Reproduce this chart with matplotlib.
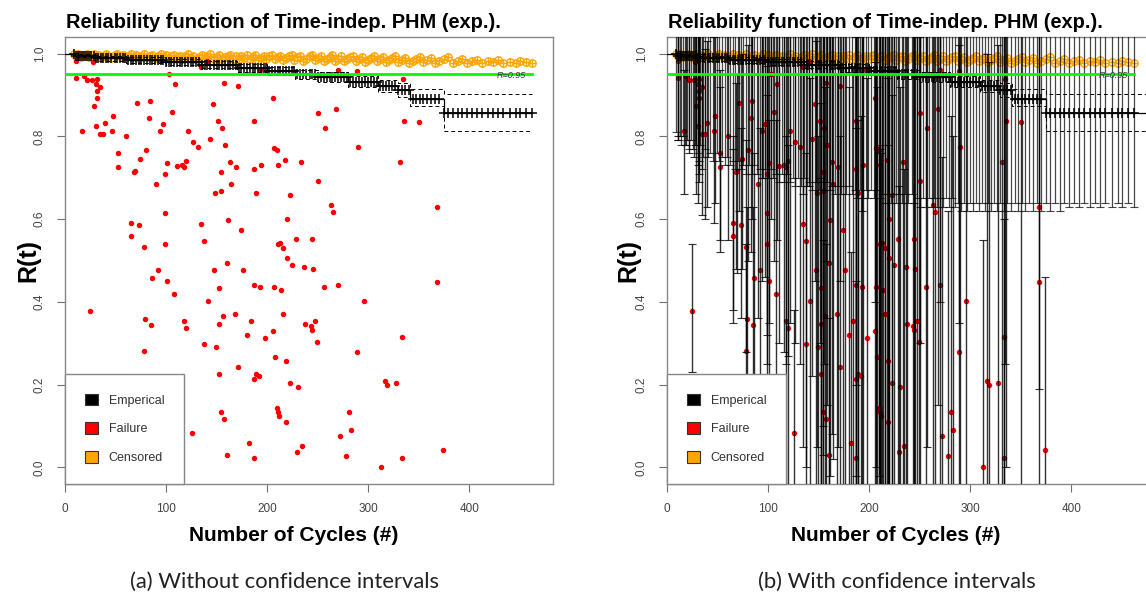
import numpy as np
import matplotlib

matplotlib.use("Agg")
import matplotlib.pyplot as plt
from matplotlib.patches import Patch

# ---------------- data ----------------
# failures: cycle count, model reliability, and the CI drawn in panel (b)
fail_x = [11, 28, 94, 135, 141, 193, 11, 19, 22, 27, 32, 31, 35, 32, 32, 29, 103, 109, 157, 171,
          206, 250, 71, 84, 146, 106, 48, 40, 31, 17, 35, 38, 47, 60, 83, 97, 94, 122, 151, 155,
          187, 144, 158, 127, 132, 80, 52, 74, 52, 101, 111, 116, 118, 120, 68, 69, 99, 90, 154, 163,
          169, 164, 148, 154, 187, 194, 189, 207, 210, 211, 218, 234, 223, 250, 99, 65, 73, 65, 135, 161,
          174, 220, 229, 244, 78, 99, 138, 211, 213, 216, 220, 225, 237, 245, 92, 86, 101, 108, 160, 147,
          176, 152, 187, 193, 207, 214, 142, 25, 79, 85, 118, 120, 156, 168, 184, 152, 216, 238, 243, 247,
          244, 249, 180, 206, 198, 138, 149, 78, 208, 219, 171, 152, 189, 192, 187, 223, 231, 210, 211, 212,
          219, 154, 157, 126, 182, 235, 230, 160, 187, 270, 289, 335, 268, 257, 336, 350, 290, 332, 263, 265,
          256, 270, 296, 289, 281, 283, 272, 278, 317, 319, 328, 313, 334, 334, 368, 368, 374]
fail_r = [0.981, 0.980, 0.981, 0.967, 0.981, 0.960, 0.940, 0.946, 0.936, 0.937, 0.938, 0.927, 0.918, 0.909, 0.893, 0.873, 0.950, 0.926, 0.930, 0.921,
          0.893, 0.857, 0.880, 0.886, 0.878, 0.859, 0.849, 0.833, 0.825, 0.812, 0.805, 0.805, 0.814, 0.800, 0.845, 0.831, 0.814, 0.814, 0.837, 0.820,
          0.837, 0.793, 0.779, 0.787, 0.775, 0.767, 0.760, 0.746, 0.725, 0.736, 0.729, 0.730, 0.725, 0.740, 0.713, 0.717, 0.708, 0.686, 0.715, 0.737,
          0.725, 0.684, 0.664, 0.668, 0.722, 0.730, 0.664, 0.772, 0.768, 0.730, 0.742, 0.737, 0.659, 0.693, 0.614, 0.590, 0.585, 0.559, 0.589, 0.597,
          0.573, 0.601, 0.552, 0.552, 0.532, 0.539, 0.546, 0.540, 0.543, 0.531, 0.507, 0.489, 0.484, 0.480, 0.478, 0.457, 0.450, 0.418, 0.495, 0.478,
          0.476, 0.433, 0.442, 0.437, 0.435, 0.428, 0.402, 0.379, 0.359, 0.343, 0.353, 0.336, 0.367, 0.371, 0.353, 0.346, 0.370, 0.346, 0.341, 0.353,
          0.331, 0.304, 0.320, 0.329, 0.312, 0.299, 0.291, 0.281, 0.266, 0.257, 0.242, 0.225, 0.226, 0.220, 0.213, 0.203, 0.194, 0.143, 0.135, 0.125,
          0.111, 0.135, 0.118, 0.084, 0.058, 0.051, 0.037, 0.031, 0.022, 0.961, 0.959, 0.938, 0.866, 0.820, 0.837, 0.835, 0.774, 0.737, 0.633, 0.616,
          0.437, 0.440, 0.403, 0.280, 0.133, 0.090, 0.077, 0.027, 0.208, 0.200, 0.203, 0.000, 0.316, 0.024, 0.630, 0.447, 0.043]
fail_lo = [0.80, 0.78, 0.70, 0.66, 0.68, 0.62, 0.79, 0.78, 0.76, 0.75, 0.74, 0.73, 0.72, 0.71, 0.69, 0.66, 0.60, 0.55, 0.50, 0.45,
           0.40, 0.30, 0.62, 0.60, 0.45, 0.50, 0.64, 0.63, 0.64, 0.66, 0.61, 0.60, 0.59, 0.55, 0.52, 0.46, 0.45, 0.35, 0.30, 0.25,
           0.20, 0.22, 0.15, 0.30, 0.25, 0.50, 0.55, 0.48, 0.52, 0.35, 0.30, 0.28, 0.25, 0.27, 0.48, 0.47, 0.32, 0.36, 0.10, 0.08,
           0.05, 0.02, 0.05, 0.03, -0.02, -0.05, -0.08, 0.00, -0.02, -0.06, -0.05, -0.08, -0.10, -0.10, 0.25, 0.38, 0.36, 0.35, 0.05, -0.02,
           -0.06, -0.10, -0.10, -0.10, 0.28, 0.18, 0.00, -0.10, -0.10, -0.10, -0.10, -0.10, -0.10, -0.10, 0.15, 0.16, 0.08, 0.02, -0.10, -0.08,
           -0.10, -0.10, -0.10, -0.10, -0.10, -0.10, -0.10, 0.23, 0.10, 0.07, -0.05, -0.07, -0.10, -0.10, -0.10, -0.10, -0.10, -0.10, -0.10, -0.10,
           -0.10, -0.10, -0.10, -0.10, -0.10, -0.10, -0.10, 0.04, -0.10, -0.10, -0.10, -0.10, -0.10, -0.10, -0.10, -0.10, -0.10, -0.10, -0.10, -0.10,
           -0.10, -0.10, -0.10, -0.10, -0.10, -0.10, -0.10, -0.10, -0.10, 0.40, 0.35, 0.25, 0.15, 0.05, 0.00, -0.05, -0.05, -0.10, -0.10, -0.10,
           -0.10, -0.10, -0.10, -0.10, -0.10, -0.10, -0.10, -0.10, -0.10, -0.10, -0.10, -0.10, -0.10, -0.10, -0.10, 0.19, -0.10]
fail_hi = [1.10, 1.10, 1.10, 1.10, 1.10, 1.10, 1.10, 1.10, 1.10, 1.10, 1.10, 1.10, 1.10, 1.10, 1.10, 1.10, 1.10, 1.10, 1.10, 1.10,
           1.10, 1.10, 1.10, 1.10, 1.10, 1.10, 1.06, 1.03, 1.00, 0.96, 1.00, 1.01, 1.04, 1.06, 1.10, 1.10, 1.10, 1.10, 1.10, 1.10,
           1.10, 1.10, 1.10, 1.10, 1.10, 1.02, 0.96, 1.00, 0.92, 1.08, 1.10, 1.10, 1.10, 1.10, 0.93, 0.95, 1.05, 0.99, 1.10, 1.10,
           1.10, 1.10, 1.10, 1.10, 1.10, 1.10, 1.10, 1.10, 1.10, 1.10, 1.10, 1.10, 1.10, 1.10, 0.97, 0.80, 0.82, 0.77, 1.10, 1.10,
           1.10, 1.10, 1.10, 1.10, 0.79, 0.90, 1.10, 1.10, 1.10, 1.10, 1.10, 1.10, 1.10, 1.10, 0.82, 0.76, 0.84, 0.84, 1.06, 1.03,
           1.08, 0.98, 1.04, 1.05, 1.10, 1.10, 0.94, 0.54, 0.63, 0.63, 0.80, 0.78, 0.92, 0.95, 0.97, 0.88, 1.05, 1.06, 1.07, 1.10,
           1.05, 1.04, 0.92, 0.98, 0.94, 0.76, 0.80, 0.54, 0.92, 0.94, 0.80, 0.70, 0.84, 0.85, 0.82, 0.90, 0.92, 0.78, 0.77, 0.76,
           0.78, 0.55, 0.54, 0.38, 0.52, 0.72, 0.68, 0.36, 0.45, 1.10, 1.10, 1.10, 1.10, 1.10, 1.10, 1.10, 1.10, 1.10, 1.10, 1.10,
           1.10, 1.10, 1.10, 1.02, 0.85, 0.80, 0.75, 0.62, 1.00, 0.98, 1.02, 0.55, 1.10, 0.60, 1.10, 1.10, 0.46]

# censored units: cycle count, model reliability, lower CI end drawn in panel (b)
cens_x = [9, 11, 13, 14, 16, 18, 20, 22, 24, 26, 29, 31, 33, 36, 38, 41, 43, 46, 49, 51,
          54, 57, 59, 62, 65, 67, 70, 73, 75, 78, 81, 84, 86, 89, 92, 95, 97, 100, 103, 105,
          108, 111, 114, 116, 119, 122, 125, 127, 130, 133, 136, 139, 141, 144, 147, 150, 152, 155, 158, 161,
          163, 166, 169, 172, 174, 177, 180, 183, 186, 188, 191, 194, 197, 199, 202, 205, 208, 211, 213, 216,
          219, 222, 225, 227, 230, 233, 236, 239, 242, 244, 247, 250, 253, 256, 259, 262, 264, 267, 270, 273,
          276, 279, 282, 285, 288, 291, 294, 297, 300, 303, 306, 309, 312, 315, 318, 321, 324, 327, 330, 334,
          337, 340, 344, 347, 351, 354, 358, 362, 366, 370, 375, 379, 384, 389, 393, 398, 403, 408, 413, 419,
          424, 429, 434, 440, 446, 450, 456, 462]
cens_r = [0.998, 0.993, 0.999, 0.995, 0.991, 0.997, 0.994, 0.999, 0.992, 0.996, 0.998, 0.993, 0.997, 0.991, 0.995, 0.999, 0.994, 0.990, 0.996, 0.998,
          0.993, 0.997, 0.990, 0.995, 0.999, 0.992, 0.996, 0.989, 0.994, 0.998, 0.991, 0.995, 0.997, 0.990, 0.993, 0.998, 0.992, 0.996, 0.989, 0.994,
          0.997, 0.991, 0.995, 0.988, 0.993, 0.998, 0.990, 0.995, 0.987, 0.992, 0.997, 0.989, 0.994, 0.998, 0.988, 0.992, 0.996, 0.987, 0.991, 0.995,
          0.997, 0.988, 0.993, 0.986, 0.995, 0.990, 0.997, 0.987, 0.992, 0.996, 0.985, 0.990, 0.995, 0.988, 0.993, 0.997, 0.986, 0.991, 0.995, 0.984,
          0.989, 0.994, 0.997, 0.985, 0.991, 0.995, 0.983, 0.988, 0.993, 0.997, 0.984, 0.989, 0.994, 0.982, 0.987, 0.992, 0.996, 0.983, 0.988, 0.993,
          0.981, 0.986, 0.991, 0.995, 0.982, 0.987, 0.992, 0.980, 0.985, 0.990, 0.994, 0.981, 0.986, 0.991, 0.979, 0.984, 0.989, 0.993, 0.980, 0.985,
          0.990, 0.978, 0.983, 0.988, 0.992, 0.979, 0.984, 0.989, 0.977, 0.982, 0.987, 0.991, 0.978, 0.983, 0.986, 0.976, 0.981, 0.985, 0.978, 0.983,
          0.979, 0.984, 0.978, 0.980, 0.977, 0.982, 0.979, 0.977]
cens_lo = [0.81, 0.79, 0.80, 0.78, 0.80, 0.78, 0.79, 0.77, 0.79, 0.77, 0.78, 0.76, 0.78, 0.75, 0.77, 0.75, 0.76, 0.74, 0.76, 0.74,
           0.75, 0.73, 0.75, 0.73, 0.74, 0.72, 0.74, 0.72, 0.73, 0.71, 0.73, 0.71, 0.73, 0.71, 0.72, 0.70, 0.72, 0.70, 0.72, 0.70,
           0.71, 0.69, 0.71, 0.69, 0.71, 0.69, 0.70, 0.68, 0.70, 0.68, 0.70, 0.68, 0.69, 0.67, 0.69, 0.67, 0.69, 0.67, 0.69, 0.67,
           0.68, 0.66, 0.68, 0.66, 0.68, 0.66, 0.68, 0.66, 0.67, 0.65, 0.67, 0.65, 0.67, 0.65, 0.67, 0.65, 0.67, 0.65, 0.66, 0.64,
           0.66, 0.64, 0.66, 0.64, 0.66, 0.64, 0.66, 0.64, 0.66, 0.64, 0.65, 0.63, 0.65, 0.63, 0.65, 0.63, 0.65, 0.63, 0.65, 0.63,
           0.65, 0.63, 0.65, 0.63, 0.64, 0.62, 0.64, 0.62, 0.64, 0.62, 0.64, 0.62, 0.64, 0.62, 0.64, 0.62, 0.64, 0.62, 0.64, 0.62,
           0.64, 0.62, 0.64, 0.62, 0.64, 0.62, 0.64, 0.62, 0.64, 0.62, 0.64, 0.62, 0.64, 0.62, 0.64, 0.63, 0.64, 0.63, 0.64, 0.63,
           0.64, 0.63, 0.64, 0.63, 0.64, 0.63, 0.64, 0.63]

# empirical (Kaplan-Meier) curve with its confidence band
km_x = [0, 10, 30, 60, 100, 135, 170, 200, 228, 250, 280, 310, 330, 341, 375, 462]
km_r = [1.0, 0.995, 0.989, 0.985, 0.979, 0.973, 0.965, 0.957, 0.950, 0.943, 0.932, 0.921, 0.912, 0.890, 0.857, 0.857]
km_up = [1.0, 0.999, 0.995, 0.991, 0.986, 0.981, 0.974, 0.967, 0.961, 0.955, 0.946, 0.936, 0.928, 0.915, 0.903, 0.903]
km_lo = [1.0, 0.991, 0.983, 0.978, 0.972, 0.965, 0.956, 0.947, 0.939, 0.931, 0.918, 0.906, 0.896, 0.874, 0.814, 0.814]

R_TARGET = 0.95

TITLE = "Reliability function of Time-indep. PHM (exp.)."
XLABEL = "Number of Cycles (#)"
YLABEL = "R(t)"
CAPTIONS = ["(a) Without confidence intervals", "(b) With confidence intervals"]
LEGEND_LABELS = ["Emperical", "Failure", "Censored"]
LEGEND_COLORS = ["black", "red", "orange"]

W, H = 1146, 596
XMAX = 483
SANS = ["Liberation Sans", "DejaVu Sans"]


def px(x, y):
    """pixel position (from top-left) -> figure fraction"""
    return x / W, 1 - y / H


def draw_panel(ax, with_ci):
    # censor marks sit on the step curve at each censored time
    idx = np.searchsorted(km_x, cens_x, side="right") - 1
    km_at_cens = np.asarray(km_r)[idx]

    ax.plot(cens_x, cens_r, "o", ms=5.3, mfc="none", mec="orange", mew=1.0, zorder=2)
    ax.plot(cens_x, cens_r, "+", ms=5.3, color="orange", mew=1.0, zorder=2)
    ax.plot(fail_x, fail_r, "o", ms=2.9, color="red", mec="red", zorder=3)

    # panel (b) draws the empirical curve out to the edge of the plot
    ext = [XMAX + 20] if with_ci else []
    kx = list(km_x) + ext
    for ys, kw in ((km_r, dict(lw=0.9)), (km_up, dict(lw=0.7, ls=(0, (4, 3)))),
                   (km_lo, dict(lw=0.7, ls=(0, (4, 3))))):
        ax.step(kx, list(ys) + [ys[-1]] * len(ext), where="post", color="black", zorder=4, **kw)
    ax.plot(cens_x, km_at_cens, "+", ms=7.5, color="black", mew=1.1, zorder=4)

    if with_ci:
        cr = np.asarray(cens_r)
        ax.errorbar(cens_x, cr, yerr=[cr - np.asarray(cens_lo), np.full(len(cr), 0.2)],
                    fmt="none", ecolor=(0, 0, 0, 0.72), elinewidth=0.9, capsize=3.2, capthick=0.8, zorder=5)
        fr = np.asarray(fail_r)
        ax.errorbar(fail_x, fr, yerr=[fr - np.asarray(fail_lo), np.asarray(fail_hi) - fr],
                    fmt="none", ecolor=(0, 0, 0, 0.8), elinewidth=1.0, capsize=3.2, capthick=0.8, zorder=5)

    x_end = max(cens_x)
    ax.plot([0, x_end], [R_TARGET, R_TARGET], color="#00ff00", lw=2, zorder=6)
    ax.text(x_end - 6, R_TARGET - 0.002, "R=0.95", ha="right", va="center", fontsize=6.5,
            style="italic", color="#333333", family=SANS, zorder=7)

    ax.set_xlim(0, XMAX)
    ax.set_ylim(-0.04, 1.04)
    ax.set_xticks([0, 100, 200, 300, 400])
    ax.set_yticks([0, 0.2, 0.4, 0.6, 0.8, 1.0])
    ax.set_yticklabels(["0.0", "0.2", "0.4", "0.6", "0.8", "1.0"], rotation=90, va="center")
    ax.tick_params(length=6, width=0.8, color="#707070", labelsize=8.5, labelcolor="#444444", pad=8)
    for lab in ax.get_xticklabels() + ax.get_yticklabels():
        lab.set_family(SANS)
    for s in ax.spines.values():
        s.set_color("#888888")
        s.set_linewidth(1)

    handles = [Patch(facecolor=c, edgecolor="#333333", lw=0.8) for c in LEGEND_COLORS]
    leg = ax.legend(handles, LEGEND_LABELS, loc="lower left", borderaxespad=0, fancybox=False,
                    framealpha=1, edgecolor="#888888", prop={"family": SANS, "size": 9},
                    handlelength=1.05, handleheight=1.05, handletextpad=0.85, labelspacing=1.25,
                    borderpad=1.6)
    leg.get_frame().set_linewidth(1)
    for t in leg.get_texts():
        t.set_color("#333333")
    leg.set_zorder(10)


fig = plt.figure(figsize=(W / 100, H / 100), dpi=100)
panels = [(65, 294, 28, 284), (667, 896, 628, 897)]
for i, (left, xlab_c, ylab_c, cap_c) in enumerate(panels):
    x0, y0 = px(left, 484)
    ax = fig.add_axes([x0, y0, 488 / W, 447 / H])
    draw_panel(ax, with_ci=(i == 1))
    fig.text(*px(left + 1, 28), TITLE, ha="left", va="baseline", fontsize=14.4,
             fontweight="bold", family=SANS)
    fig.text(*px(xlab_c, 541), XLABEL, ha="center", va="baseline", fontsize=15,
             fontweight="bold", family=SANS)
    fig.text(*px(ylab_c, 261), YLABEL, ha="center", va="center", rotation=90,
             fontsize=18, fontweight="bold", family=SANS)
    fig.text(*px(cap_c, 588), CAPTIONS[i], ha="center", va="baseline", fontsize=15.8,
             family=["Lato", "DejaVu Sans"], color="#222222")

fig.savefig("out.png", dpi=100)
